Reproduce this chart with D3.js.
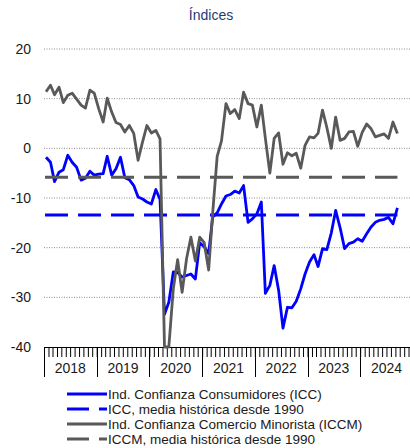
<!DOCTYPE html>
<html>
<head>
<meta charset="utf-8">
<script src="https://cdn.jsdelivr.net/npm/d3@7"></script>
<style>
  body { margin: 0; background: #fff; }
  svg { font-family: "Liberation Sans", Arial, sans-serif; }
</style>
</head>
<body>
<svg width="410" height="448"></svg>
<script>
// monthly values, Jan 2018 - Sep 2024
var icc = [
  -1.8, -2.8, -6.7, -4.8, -4.3, -1.4, -2.8, -3.8, -6.4, -6.0, -4.6, -5.4,
  -5.2, -5.1, -1.6, -5.4, -4.1, -1.8, -5.9, -6.3, -7.5, -9.8, -10.2, -10.8,
  -11.2, -8.3, -10.3, -33.4, -31.0, -24.9, -25.0, -25.9, -25.6, -25.3, -26.3, -19.0,
  -19.8, -21.2, -13.8, -13.0, -11.2, -9.6, -9.3, -8.6, -9.0, -7.5, -14.9, -14.2,
  -13.2, -10.8, -29.2, -27.6, -23.6, -28.6, -36.2, -32.0, -32.1, -30.8, -28.3, -25.3,
  -22.9, -21.4, -23.8, -20.2, -20.4, -17.0, -12.5, -16.0, -20.2, -19.2, -18.9, -18.2,
  -18.7, -17.2, -15.9, -14.9, -14.5, -14.3, -13.9, -15.2, -12.0
];
var iccm = [
  11.4, 12.7, 10.8, 12.3, 9.2, 10.7, 11.1, 9.9, 8.7, 8.1, 11.7, 11.1,
  8.0, 5.3, 10.1, 7.3, 5.2, 4.8, 3.3, 4.6, 3.0, -2.4, 1.3, 4.6,
  3.1, 3.6, 1.9, -40, -40, -28.3, -22.4, -29.0, -22.2, -17.9, -22.7, -17.9,
  -19.0, -24.5, -13.0, -1.6, 1.5, 9.0, 7.0, 7.8, 6.0, 11.3, 9.0, 8.7,
  4.3, 8.7, 2.0, -5.0, 2.0, 3.1, -3.2, -0.9, -1.5, -1.0, -4.0, 0.6,
  2.3, 2.1, 3.0, 7.7, 4.2, 0.0, 6.3, 1.6, 2.0, 3.3, 3.4, 0.4,
  3.2, 4.9, 4.0, 2.3, 2.6, 2.9, 2.0, 5.3, 3.0
];
var iccMean = -13.4;
var iccmMean = -5.8;
var yTicks = [20, 10, 0, -10, -20, -30, -40];
var years = [2018, 2019, 2020, 2021, 2022, 2023, 2024];
var legendLabels = [
  "Ind. Confianza Consumidores (ICC)",
  "ICC, media histórica desde 1990",
  "Ind. Confianza Comercio Minorista (ICCM)",
  "ICCM, media histórica desde 1990"
];

var blue = "#0000ff", grey = "#595959";

var svg = d3.select("svg");

// month dates for each value (mid month)
var months = icc.map(function (d, i) {
  return new Date(2018, i, 15);
});

var x = d3.scaleTime()
  .domain([new Date(2018, 0, 1), new Date(2025, 0, 1)])
  .range([44, 413]);
var y = d3.scaleLinear().domain([-40, 20]).range([347, 49]);

// title
svg.append("text")
  .attr("x", 211).attr("y", 20)
  .attr("text-anchor", "middle")
  .attr("font-size", 14)
  .attr("fill", "#1f3a78")
  .text("Índices");

// gridlines
svg.append("g")
  .selectAll("line")
  .data(yTicks.filter(function (d) { return d > -40; }))
  .enter().append("line")
  .attr("x1", 44).attr("x2", 410)
  .attr("y1", function (d) { return y(d); })
  .attr("y2", function (d) { return y(d); })
  .attr("stroke", "#8c8c8c")
  .attr("stroke-width", 1)
  .attr("stroke-dasharray", "1,1.5");

// y labels
svg.append("g")
  .selectAll("text")
  .data(yTicks)
  .enter().append("text")
  .attr("x", 31)
  .attr("y", function (d) { return y(d); })
  .attr("dy", "0.35em")
  .attr("text-anchor", "end")
  .attr("font-size", 14)
  .attr("fill", "#1a1a1a")
  .text(function (d) { return d; });

// x axis: month ticks
var xAxis = svg.append("g").attr("transform", "translate(0," + y(-40) + ")");
xAxis.call(d3.axisBottom(x)
  .ticks(d3.timeMonth.every(1))
  .tickSize(10)
  .tickFormat(""));
xAxis.select(".domain").attr("stroke", "#000").attr("d", "M44,0.5H410");
xAxis.selectAll(".tick line").attr("stroke", "#000");

// year separators
svg.append("g")
  .selectAll("line")
  .data(years)
  .enter().append("line")
  .attr("x1", function (d) { return Math.round(x(new Date(d, 0, 1))) + 0.5; })
  .attr("x2", function (d) { return Math.round(x(new Date(d, 0, 1))) + 0.5; })
  .attr("y1", y(-40)).attr("y2", y(-40) + 30)
  .attr("stroke", "#000");

svg.append("g")
  .selectAll("text")
  .data(years)
  .enter().append("text")
  .attr("x", function (d) { return (x(new Date(d, 0, 1)) + x(new Date(d + 1, 0, 1))) / 2; })
  .attr("y", y(-40) + 21)
  .attr("dy", "0.35em")
  .attr("text-anchor", "middle")
  .attr("font-size", 14)
  .attr("fill", "#1a1a1a")
  .text(function (d) { return d; });

var line = d3.line()
  .x(function (d, i) { return x(months[i]); })
  .y(function (d) { return y(d); });

var x0 = x(months[0]), x1 = x(months[months.length - 1]);

// ICC
svg.append("path")
  .datum(icc)
  .attr("d", line)
  .attr("fill", "none")
  .attr("stroke", blue)
  .attr("stroke-width", 2.8)
  .attr("stroke-linejoin", "round");

svg.append("line")
  .attr("x1", x0 - 1).attr("x2", x1)
  .attr("y1", y(iccMean)).attr("y2", y(iccMean))
  .attr("stroke", blue)
  .attr("stroke-width", 3)
  .attr("stroke-dasharray", "23,10");

// ICCM
svg.append("path")
  .datum(iccm)
  .attr("d", line)
  .attr("fill", "none")
  .attr("stroke", grey)
  .attr("stroke-width", 2.8)
  .attr("stroke-linejoin", "round");

svg.append("line")
  .attr("x1", x0 - 1).attr("x2", x1)
  .attr("y1", y(iccmMean)).attr("y2", y(iccmMean))
  .attr("stroke", grey)
  .attr("stroke-width", 3)
  .attr("stroke-dasharray", "23,10");

// legend
var legendStyles = [
  { color: blue, dash: null },
  { color: blue, dash: "22,10" },
  { color: grey, dash: null },
  { color: grey, dash: "22,10" }
];
var lg = svg.append("g").selectAll("g")
  .data(legendLabels)
  .enter().append("g")
  .attr("transform", function (d, i) { return "translate(67," + (394 + i * 15) + ")"; });

lg.append("line")
  .attr("x1", 0).attr("x2", 40)
  .attr("y1", 0).attr("y2", 0)
  .attr("stroke", function (d, i) { return legendStyles[i].color; })
  .attr("stroke-width", 3)
  .attr("stroke-dasharray", function (d, i) { return legendStyles[i].dash; });

lg.append("text")
  .attr("x", 41)
  .attr("y", 0)
  .attr("dy", "0.35em")
  .attr("font-size", 13.5)
  .attr("fill", "#1a1a1a")
  .text(function (d) { return d; });
</script>
</body>
</html>
